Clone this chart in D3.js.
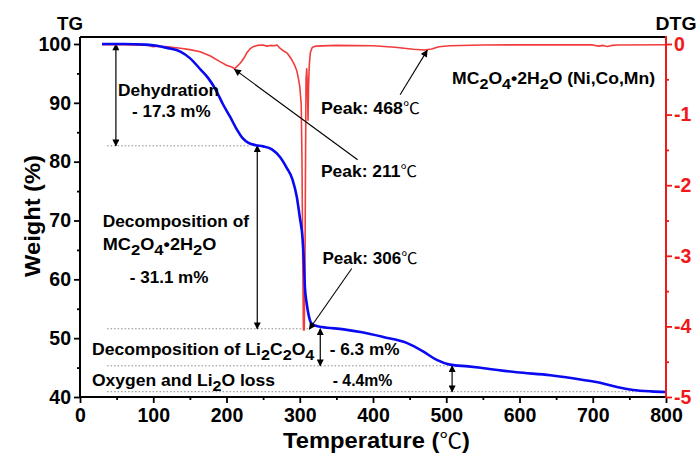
<!DOCTYPE html>
<html>
<head>
<meta charset="utf-8">
<script src="https://cdn.jsdelivr.net/npm/d3@7/dist/d3.min.js"></script>
<style>
  html, body { margin: 0; padding: 0; background: #fff; }
  svg { display: block; font-family: "Liberation Sans", Arial, sans-serif; font-weight: bold; }
</style>
</head>
<body>
<svg id="chart" width="697" height="459"></svg>
<script>
// Thermogravimetric curve (weight %) vs temperature
const tgTemp   = [30, 60, 90, 105, 120, 137, 150, 165, 175, 185, 195, 205, 214, 222, 230, 240, 250, 262, 273, 282, 290, 296, 300, 304, 306, 307, 309.5, 312, 316, 322, 330, 360, 385, 414, 446, 469, 487, 505, 530, 551, 596, 642, 687, 714, 733, 755, 780, 800];
const tgWeight = [100.0, 100.0, 99.9, 99.7, 99.3, 98.7, 97.6, 95.6, 94.2, 92.3, 89.8, 87.6, 85.5, 84.0, 83.2, 82.8, 82.6, 82.1, 80.8, 79.0, 77.0, 74.0, 70.6, 66.7, 62.1, 58.7, 55.9, 54.0, 52.5, 52.1, 51.9, 51.5, 51.0, 50.2, 49.2, 47.7, 46.3, 45.5, 45.2, 44.9, 44.2, 43.7, 42.9, 42.3, 41.7, 41.2, 40.95, 40.85];

// Derivative curve (DTG) vs temperature
const dtgTemp = [30, 60, 95, 100, 103, 120, 137, 150, 164, 178, 191, 200, 205, 208, 211, 214, 218, 221, 225, 228, 232, 236, 242, 250, 255, 260, 265, 269, 273, 278, 283, 289, 293, 296, 298, 300, 302, 303, 304, 305, 306.2, 307.2, 308, 308.6, 309.5, 310.5, 311.3, 312, 313, 314.5, 317, 322, 350, 400, 430, 455, 470, 480, 490, 505, 550, 600, 650, 700, 708, 714, 720, 726, 735, 800];
const dtgRate = [-0.01, -0.01, -0.02, -0.04, -0.03, -0.04, -0.06, -0.08, -0.11, -0.17, -0.25, -0.3, -0.32, -0.33, -0.35, -0.32, -0.28, -0.24, -0.18, -0.12, -0.07, -0.04, -0.02, -0.015, -0.03, -0.02, -0.025, -0.015, -0.06, -0.1, -0.13, -0.22, -0.3, -0.38, -0.48, -0.6, -0.85, -1.6, -3.0, -4.05, -4.05, -3.0, -1.5, -0.5, -0.35, -0.6, -1.08, -0.6, -0.3, -0.12, -0.05, -0.03, -0.02, -0.025, -0.045, -0.075, -0.085, -0.07, -0.04, -0.025, -0.015, -0.012, -0.012, -0.013, -0.03, -0.02, -0.035, -0.02, -0.015, -0.01];

// Axis ticks
const tempTicks   = [0, 100, 200, 300, 400, 500, 600, 700, 800];
const tempMinor   = [50, 150, 250, 350, 450, 550, 650, 750];
const weightTicks = [40, 50, 60, 70, 80, 90, 100];
const weightMinor = [45, 55, 65, 75, 85, 95];
const dtgTicks    = [0, -1, -2, -3, -4, -5];
const dtgMinor    = [-0.5, -1.5, -2.5, -3.5, -4.5];

// Weight-loss steps (m%) and where their arrows / guide lines sit
const stepLoss    = [17.3, 31.1, 6.3, 4.4];
const stepArrowT  = [49, 242, 328, 508];
const guideEndT   = [232, 314, 505, 800];
const guideStartT = 37;

const svg = d3.select("#chart");
const W = 697, H = 459;
const pL = 80, pR = 666, pT = 37, pB = 397;

const x  = d3.scaleLinear().domain([0, 800]).range([pL, pR]);
const y  = d3.scaleLinear().domain([40, 100]).range([pB, 44]);
const y2 = d3.scaleLinear().domain([-5, 0]).range([pB, 44]);

const RED = "#f01818";
const CURVE_RED = "#f23c3c";
const BLUE = "#0a0af0";

svg.append("rect").attr("width", W).attr("height", H).attr("fill", "#fff");

// arrow heads
const defs = svg.append("defs");
function marker(id, orientRev) {
  defs.append("marker")
    .attr("id", id).attr("viewBox", "0 0 10 10")
    .attr("refX", 9).attr("refY", 5)
    .attr("markerWidth", 9).attr("markerHeight", 7)
    .attr("markerUnits", "userSpaceOnUse")
    .attr("orient", orientRev ? "auto-start-reverse" : "auto")
    .append("path").attr("d", "M0,0 L10,5 L0,10 Z").attr("fill", "#000");
}
marker("arr", false);
marker("arr2", true);

// ---- guide lines at each step level ----
const levels = [100];
stepLoss.forEach(d => levels.push(+(levels[levels.length - 1] - d).toFixed(1)));
const guides = svg.append("g");
levels.slice(1).forEach((lv, i) => {
  guides.append("line")
    .attr("x1", x(guideStartT)).attr("x2", x(guideEndT[i]))
    .attr("y1", y(lv)).attr("y2", y(lv))
    .attr("stroke", "#8a8a8a").attr("stroke-width", 1)
    .attr("stroke-dasharray", "1.5,2");
});

// ---- step double arrows ----
stepLoss.forEach((d, i) => {
  svg.append("line")
    .attr("x1", x(stepArrowT[i])).attr("x2", x(stepArrowT[i]))
    .attr("y1", y(levels[i])).attr("y2", y(levels[i + 1]))
    .attr("stroke", "#000").attr("stroke-width", 1.2)
    .attr("marker-start", "url(#arr2)").attr("marker-end", "url(#arr)");
});

// ---- curves ----
const dtgLine = d3.line().x((d, i) => x(dtgTemp[i])).y(d => y2(d));
svg.append("path").datum(dtgRate)
  .attr("d", dtgLine).attr("fill", "none")
  .attr("stroke", CURVE_RED).attr("stroke-width", 1.6).attr("stroke-linejoin", "round");

const tgLine = d3.line().x((d, i) => x(tgTemp[i])).y(d => y(d)).curve(d3.curveMonotoneX);
svg.append("path").datum(tgWeight)
  .attr("d", tgLine).attr("fill", "none")
  .attr("stroke", BLUE).attr("stroke-width", 2.6).attr("stroke-linejoin", "round");

// ---- axes ----
const fontTick = 19.5;
function styleAxis(g, color) {
  g.select(".domain").remove();
  g.selectAll(".tick line").attr("stroke", color).attr("stroke-width", 1.8);
  g.selectAll(".tick text").attr("fill", color).attr("font-size", fontTick)
    .attr("font-family", "'Liberation Sans', Arial, sans-serif").attr("font-weight", "bold");
}
const plain = d => String(d);

const gx = svg.append("g").attr("transform", `translate(0,${pB})`)
  .call(d3.axisBottom(x).tickValues(tempTicks).tickSize(6).tickPadding(5).tickFormat(plain));
styleAxis(gx, "#000");
const gxm = svg.append("g").attr("transform", `translate(0,${pB})`)
  .call(d3.axisBottom(x).tickValues(tempMinor).tickSize(3).tickFormat(""));
styleAxis(gxm, "#000");

const gy = svg.append("g").attr("transform", `translate(${pL},0)`)
  .call(d3.axisLeft(y).tickValues(weightTicks).tickSize(6).tickPadding(3).tickFormat(plain));
styleAxis(gy, "#000");
const gym = svg.append("g").attr("transform", `translate(${pL},0)`)
  .call(d3.axisLeft(y).tickValues(weightMinor).tickSize(3).tickFormat(""));
styleAxis(gym, "#000");

const gr = svg.append("g").attr("transform", `translate(${pR},0)`)
  .call(d3.axisRight(y2).tickValues(dtgTicks).tickSize(6).tickPadding(2).tickFormat(plain));
styleAxis(gr, RED);
const grm = svg.append("g").attr("transform", `translate(${pR},0)`)
  .call(d3.axisRight(y2).tickValues(dtgMinor).tickSize(3).tickFormat(""));
styleAxis(grm, RED);

// frame lines
svg.append("line").attr("x1", pL).attr("x2", pR).attr("y1", pT).attr("y2", pT)
  .attr("stroke", "#000").attr("stroke-width", 2);
svg.append("line").attr("x1", pL).attr("x2", pL).attr("y1", pT).attr("y2", pB + 1)
  .attr("stroke", "#000").attr("stroke-width", 2);
svg.append("line").attr("x1", pL - 1).attr("x2", pR).attr("y1", pB).attr("y2", pB)
  .attr("stroke", "#000").attr("stroke-width", 2);
svg.append("line").attr("x1", pR).attr("x2", pR).attr("y1", pT - 1).attr("y2", pB + 1)
  .attr("stroke", RED).attr("stroke-width", 2);

// ---- rich text: "_x" makes x a subscript, ℃ drawn in a lighter glyph ----
function rich(px, py, str, size, anchor, color) {
  const t = svg.append("text").attr("x", px).attr("y", py)
    .attr("font-size", size).attr("fill", color || "#000")
    .attr("text-anchor", anchor || "start");
  let shift = 0;
  const runs = [];
  for (let i = 0; i < str.length; i++) {
    const c = str[i];
    if (c === "_" && i + 1 < str.length) { runs.push({ s: str[i + 1], type: "sub" }); i++; }
    else if (c === "℃") runs.push({ s: c, type: "deg" });
    else {
      const last = runs[runs.length - 1];
      if (last && last.type === "n") last.s += c; else runs.push({ s: c, type: "n" });
    }
  }
  const subDy = Math.round(size * 0.28);
  runs.forEach(r => {
    const ts = t.append("tspan").text(r.s);
    if (r.type === "sub") {
      ts.attr("dy", subDy - shift).attr("font-size", size * 0.92);
      shift = subDy;
    } else {
      if (shift) ts.attr("dy", -shift);
      shift = 0;
      if (r.type === "deg") ts.attr("font-weight", "normal").attr("font-family", "'Noto Sans CJK SC', sans-serif").attr("font-size", size * 0.95);
    }
  });
  return t;
}

// stretch a label horizontally (about its anchor) to a set width
function fit(t, width, pre) {
  const bb = t.node().getBBox();
  if (!bb.width) return t;
  const s = width / bb.width;
  const ax = +t.attr("x");
  const head = pre ? pre + " " : "";
  t.attr("transform", `${head}translate(${ax},0) scale(${s},1) translate(${-ax},0)`);
  return t;
}

// axis titles
fit(rich(70, 30, "TG", 18, "middle"), 26);
fit(rich(676, 30, "DTG", 18, "middle"), 41);
fit(rich(376.5, 448, "Temperature (℃)", 22, "middle"), 187);
fit(rich(0, 0, "Weight (%)", 22.5, "middle"), 122, "translate(40,216) rotate(-90)");

// step annotations (positions in temperature / weight units)
const annSize = 16.5;
const notes = [
  { s: "Dehydration",                 t: 52,   w: 91.2, len: 101 },
  { s: "- " + stepLoss[0] + " m%",    t: 71,   w: 87.6, len: 79 },
  { s: "Decomposition of",            t: 31,   w: 68.9, len: 147 },
  { s: "MC_2O_4•2H_2O",               t: 31,   w: 65.0, len: 114 },
  { s: "- " + stepLoss[1] + " m%",    t: 68,   w: 59.4, len: 79 },
  { s: "Decomposition of Li_2C_2O_4", t: 16.4, w: 47.1, len: 223 },
  { s: "- " + stepLoss[2] + " m%",    t: 341,  w: 47.1, len: 70 },
  { s: "Oxygen and Li_2O loss",       t: 16.4, w: 41.8, len: 183 },
  { s: "- " + stepLoss[3] + "m%",     t: 345,  w: 41.8, len: 60 }
];
notes.forEach(n => fit(rich(x(n.t), y(n.w), n.s, annSize), n.len));
fit(rich(x(508), y2(-0.57), "MC_2O_4•2H_2O (Ni,Co,Mn)", annSize), 203);

// peak labels and pointers
const peaks = [
  { label: "Peak: 211℃", at: [211, -0.36], from: [379, -1.64], tx: 329, ty: -1.88, len: 96 },
  { label: "Peak: 468℃", at: [474, -0.09], from: [437, -0.72], tx: 329, ty: -0.99, len: 99 },
  { label: "Peak: 306℃", at: [313, -4.04], from: [371, -3.18], tx: 331, ty: -3.12, len: 95 }
];
peaks.forEach(p => {
  svg.append("line")
    .attr("x1", x(p.from[0])).attr("y1", y2(p.from[1]))
    .attr("x2", x(p.at[0])).attr("y2", y2(p.at[1]))
    .attr("stroke", "#000").attr("stroke-width", 1.1)
    .attr("marker-end", "url(#arr)");
  fit(rich(x(p.tx), y2(p.ty), p.label, annSize), p.len);
});
</script>
</body>
</html>
